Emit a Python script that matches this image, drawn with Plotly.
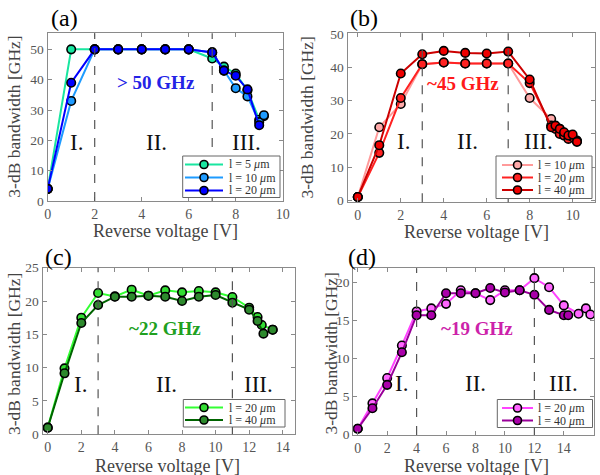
import plotly.graph_objects as go

# ---------------- data ----------------
# panel (a)
a_x5 = [0, 1, 2, 3, 4, 5, 6, 7, 7.5, 8, 8.5, 9, 9.2]
a_y5 = [4, 50, 50, 50, 50, 50, 50, 47, 44.3, 42, 36.5, 26.8, 28]
a_x10 = [0, 1, 2, 3, 4, 5, 6, 7, 7.5, 8, 8.5, 9, 9.2]
a_y10 = [4, 33, 50, 50, 50, 50, 50, 49, 43, 37.2, 34.5, 26, 28.3]
a_x20 = [0, 1, 2, 3, 4, 5, 6, 7, 7.5, 8, 8.5, 9]
a_y20 = [4, 39, 50, 50, 50, 50, 50, 49, 43, 41.3, 36.8, 25]

# panel (b)
b_x10 = [0, 1, 2, 3, 4, 5, 6, 7, 8, 9, 9.4, 9.8, 10.2]
b_y10 = [1, 22, 29, 41, 41.5, 41.2, 41.2, 41.2, 30.8, 24.5, 21.5, 19.5, 18]
b_x20 = [0, 1, 2, 3, 4, 5, 6, 7, 8, 9, 9.2, 9.4, 9.6, 9.8, 10, 10.2]
b_y20 = [1, 14.3, 30.8, 41, 41.5, 41.2, 41.2, 41.2, 35.3, 22.5, 21.5, 20, 19.5, 18.5, 19, 17.8]
b_x40 = [0, 1, 2, 3, 4, 5, 6, 7, 8, 9, 9.2, 9.4, 9.6, 9.8, 10, 10.2]
b_y40 = [1, 16.6, 38.2, 44, 45, 44.4, 44.2, 44.8, 36.4, 22, 22.5, 21.5, 20.5, 19.5, 19.8, 17.6]

# panel (c)
c_x20 = [0, 1, 2, 3, 4, 5, 6, 7, 8, 9, 10, 11, 12, 12.5, 12.75, 13.4]
c_y20 = [1, 9.9, 17.5, 21.2, 20.7, 21.7, 20.8, 21.6, 21.3, 21.5, 21.3, 20.6, 19, 17.6, 16.4, 15.7]
c_x40 = [0, 1, 2, 3, 4, 5, 6, 7, 8, 9, 10, 11, 12, 12.5, 12.85, 13.4]
c_y40 = [1, 9.15, 16.7, 19.4, 20.65, 20.65, 20.8, 20.65, 20, 20.65, 20.9, 19.75, 18.7, 17, 15.1, 15.7]

# panel (d)
d_x20 = [0, 1, 2, 3, 4, 5, 6, 7, 8, 9, 10, 11, 12, 13, 14, 15, 15.5, 15.8]
d_y20 = [0.7, 4.05, 7.4, 11.7, 16.2, 16.6, 17.2, 19, 18.6, 17.7, 19, 19, 20.6, 19.4, 17, 15.9, 16.6, 15.8]
d_x40 = [0, 1, 2, 3, 4, 5, 6, 7, 8, 9, 10, 11, 12, 13, 14, 14.3]
d_y40 = [0.7, 3.4, 6.5, 10.8, 15.7, 15.7, 18.6, 18.6, 18.6, 19.3, 18.7, 19, 18.4, 16.4, 15.7, 15.7]

panel_labels = ["(a)", "(b)", "(c)", "(d)"]
bw_labels = ["> 50 GHz", "~45 GHz", "~22 GHz", "~19 GHz"]
region_labels = ["I.", "II.", "III."]
x_title = "Reverse voltage [V]"
y_title = "3-dB bandwidth [GHz]"
dash_a = [2, 7]
dash_b = [3, 7]
dash_c = [3, 11]
dash_d = [4, 12]

FONT = "Liberation Serif, DejaVu Serif, Times New Roman, serif"
W, H = 600, 475

fig = go.Figure()
mu = "<i>\u03bc</i>m"

# (name, line colour, fill colour, axis suffix, x, y)
series = [
    ("l = 5 " + mu, "#19e6a0", "#19e6a0", "", a_x5, a_y5),
    ("l = 10 " + mu, "#1e9bff", "#1e9bff", "", a_x10, a_y10),
    ("l = 20 " + mu, "#0000ff", "#0000ff", "", a_x20, a_y20),
    ("l = 10 " + mu, "#ff9a9a", "#ffaaaa", "2", b_x10, b_y10),
    ("l = 20 " + mu, "#ff2222", "#ff2222", "2", b_x20, b_y20),
    ("l = 40 " + mu, "#cc0000", "#ee0000", "2", b_x40, b_y40),
    ("l = 20 " + mu, "#33ff33", "#33dd33", "3", c_x20, c_y20),
    ("l = 40 " + mu, "#006400", "#2d8a2d", "3", c_x40, c_y40),
    ("l = 20 " + mu, "#ff44ff", "#ff66ff", "4", d_x20, d_y20),
    ("l = 40 " + mu, "#990099", "#aa00aa", "4", d_x40, d_y40),
]

for name, lc, fc, ax, x, y in series:
    fig.add_trace(go.Scatter(
        x=x, y=y, name=name, mode="lines+markers", showlegend=False,
        line=dict(color=lc, width=2),
        marker=dict(size=8.5, color=fc, line=dict(color="black", width=1.6)),
        xaxis="x" + ax, yaxis="y" + ax))

# axis boxes in pixel coordinates (left, right, top, bottom)
boxes = {
    "": (47.7, 282.7, 33.3, 201.0),
    "2": (347.7, 595.0, 33.3, 202.3),
    "3": (42.7, 295.0, 267.7, 434.3),
    "4": (353.3, 594.0, 268.3, 435.0),
}
xranges = {"": [0, 10], "2": [-0.47, 11.04], "3": [-0.3, 14.73], "4": [-0.3, 16.05]}
yranges = {"": [0, 55.3], "2": [-0.6, 50.3], "3": [0, 25], "4": [-0.13, 21.9]}
xdt = {"": 2, "2": 2, "3": 2, "4": 2}
ydt = {"": 10, "2": 10, "3": 5, "4": 5}

xtickfont = dict(family=FONT, size=14, color="#555555")
ytickfont = dict(family=FONT, size=13.5, color="#555555")

layout = dict(
    width=W, height=H, margin=dict(l=0, r=0, t=0, b=0, autoexpand=False),
    paper_bgcolor="white", plot_bgcolor="white",
    font=dict(family=FONT), showlegend=False,
)
for k, (l, r, t, b) in boxes.items():
    layout["xaxis" + k] = dict(
        domain=[l / W, r / W], range=xranges[k], anchor="y" + k, automargin=False,
        dtick=xdt[k], tick0=0, showgrid=False, zeroline=False,
        showline=True, linecolor="#8a8a8a", linewidth=1.3, mirror="ticks",
        ticks="inside", ticklen=4, tickcolor="#8a8a8a",
        tickfont=xtickfont,
    )
    layout["yaxis" + k] = dict(
        domain=[1 - b / H, 1 - t / H], range=yranges[k], anchor="x" + k, automargin=False,
        dtick=ydt[k], tick0=0, showgrid=False, zeroline=False,
        showline=True, linecolor="#8a8a8a", linewidth=1.3, mirror="ticks",
        ticks="inside", ticklen=4, tickcolor="#8a8a8a",
        tickfont=ytickfont,
    )

fig.update_layout(**layout)

# dashed region separators
for k, xs in [("", dash_a), ("2", dash_b), ("3", dash_c), ("4", dash_d)]:
    for xv in xs:
        fig.add_shape(type="line", xref="x" + k, yref=("y" + k) + " domain",
                      x0=xv, x1=xv, y0=0, y1=1,
                      line=dict(color="#555555", width=1.2, dash="dash"))


def px_x(v):
    return v / W


def px_y(v):
    return 1 - v / H


def label(txt, px, py, size, color, xanchor="center", angle=0):
    fig.add_annotation(text=txt, x=px_x(px), y=px_y(py), xref="paper", yref="paper",
                       xanchor=xanchor, yanchor="middle", showarrow=False, textangle=angle,
                       font=dict(family=FONT, size=size, color=color))


# axis titles
for (px, py) in [(165.2, 230.5), (476.7, 232), (167.5, 465.5), (476.7, 465.5)]:
    label(x_title, px, py, 18, "#444444")
for (px, py) in [(14.0, 116.7), (306.5, 118), (14.0, 354), (330.5, 354)]:
    label(y_title, px, py, 17.5, "#444444", angle=-90)

# legends drawn as boxed keys: (box l, r, t, b, line x0, x1, text x, row ys, series indices)
legends = [
    (182.7, 280.0, 156.0, 197.5, 185, 223, 226.5, [164.5, 177.5, 190.5], [0, 1, 2]),
    (496.0, 592.0, 156.0, 198.5, 502, 533, 536.0, [165, 177.5, 190], [3, 4, 5]),
    (183.3, 285.0, 399.5, 427.0, 185, 223, 226.5, [407.5, 420], [6, 7]),
    (497.3, 592.5, 399.5, 427.5, 502, 533, 536.0, [408, 420.5], [8, 9]),
]
for bl, br, bt, bb, lx0, lx1, tx, rows, idxs in legends:
    fig.add_shape(type="rect", xref="paper", yref="paper",
                  x0=px_x(bl), x1=px_x(br), y0=px_y(bb), y1=px_y(bt),
                  fillcolor="white", line=dict(color="#666666", width=1), layer="above")
    for ry, i in zip(rows, idxs):
        name, lc, fc = series[i][0], series[i][1], series[i][2]
        fig.add_shape(type="line", xref="paper", yref="paper",
                      x0=px_x(lx0), x1=px_x(lx1), y0=px_y(ry), y1=px_y(ry),
                      line=dict(color=lc, width=2), layer="above")
        cx = (lx0 + lx1) / 2
        fig.add_shape(type="circle", xref="paper", yref="paper",
                      x0=px_x(cx - 4), x1=px_x(cx + 4), y0=px_y(ry + 4), y1=px_y(ry - 4),
                      fillcolor=fc, line=dict(color="black", width=1.6), layer="above")
        label(name, tx, ry, 12, "#333333", xanchor="left")

# panel letters
for txt, (px, py) in zip(panel_labels, [(64, 18), (364, 18), (58, 257), (362, 257)]):
    label(txt, px, py, 24, "black")

# bandwidth labels
for txt, (px, py), col in zip(bw_labels,
                              [(155.5, 82), (462.7, 83.3), (165, 328), (476.7, 328.3)],
                              ["#2323e6", "#ff1a1a", "#20a020", "#cc22aa"]):
    label("<b>" + txt + "</b>", px, py, 19, col)

# region labels
region_pos = [
    [(76, 142), (156.7, 142), (246.7, 142)],
    [(403, 141.7), (467.5, 141.7), (538, 141.7)],
    [(80.3, 384), (166.7, 384), (258.3, 384)],
    [(401.7, 383.3), (475.8, 383.3), (563.3, 383.3)],
]
for row in region_pos:
    for txt, (px, py) in zip(region_labels, row):
        label(txt, px, py, 23, "#111111")

fig.write_html("out.html")
